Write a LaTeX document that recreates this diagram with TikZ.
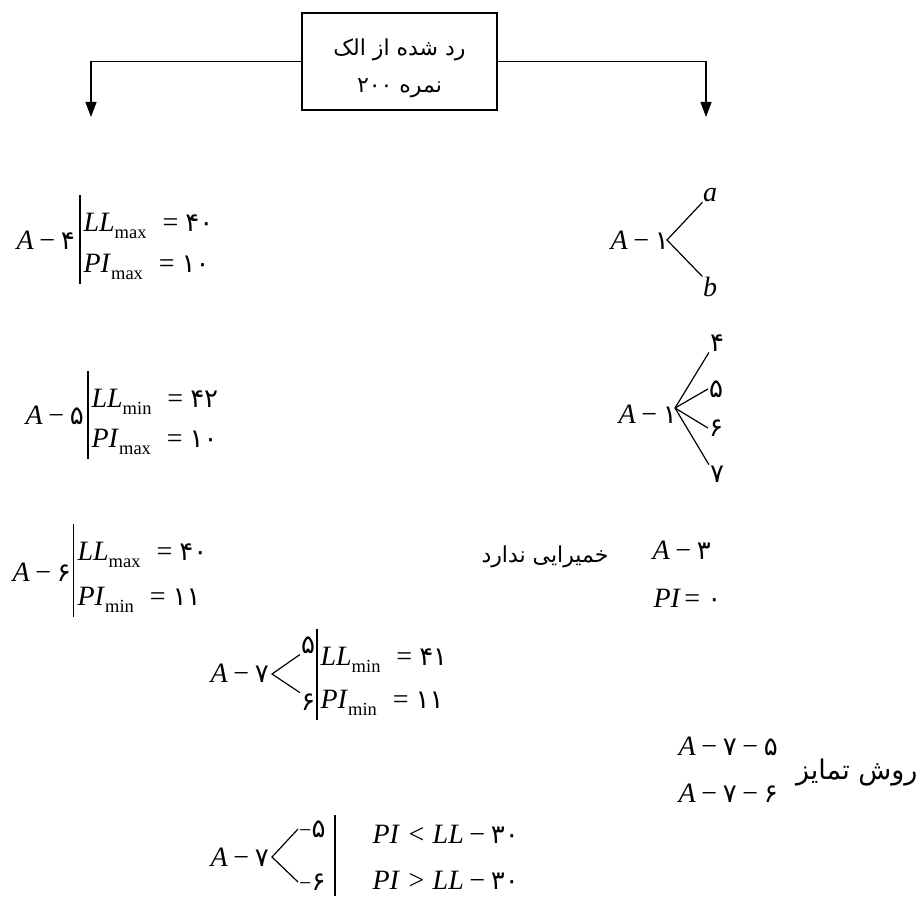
\documentclass[tikz,border=0pt]{standalone}
\usepackage{fontspec}
\setmainfont{Liberation Serif}
\newfontfamily\farsi[Script=Arabic]{DejaVu Sans}
\TeXXeTstate=1
\usetikzlibrary{arrows.meta, positioning}
\tikzset{
  every picture/.style={x=1pt, y=-1pt, line width=1.2pt},
  frame/.style={draw, line width=1.4pt, minimum width=195pt, minimum height=97pt},
  boxtext/.style={anchor=base, inner sep=0pt, font=\farsi\fontsize{22}{24}\selectfont},
  arrow/.style={-{Triangle[length=15pt, width=11pt]}},
  eq/.style={anchor=base west, inner sep=0pt, font=\fontsize{28}{32}\selectfont},
  leaf/.style={inner sep=0pt, font=\fontsize{28}{32}\selectfont\itshape},
  tag/.style={inner sep=0.5pt, font=\farsi\fontsize{26}{26}\selectfont},
  note/.style={inner sep=0pt, anchor=base east, font=\farsi\fontsize{22}{26}\selectfont},
}
\newcommand{\mv}[1]{\textit{#1}}
\newcommand{\fd}[1]{{\farsi\fontsize{26}{26}\selectfont #1}}
\newcommand{\mminus}{\hspace{0.2em}−\hspace{0.2em}}
\newcommand{\meq}{\hspace{0.12em}=\hspace{0.25em}}
\newcommand{\mrel}[1]{\hspace{0.3em}#1\hspace{0.3em}}
\newcommand{\lowsub}[1]{\raisebox{-7pt}{\fontsize{18.5}{18.5}\selectfont #1}\hspace{0.45em}}
\newcommand{\condpair}[7]{% name, bar x, text x, top baseline, bottom baseline, top row, bottom row
  \node[eq] (#1t) at (#3,#4) {#6};
  \node[eq] (#1b) at (#3,#5) {#7};
  \draw (#2,#4-36) -- (#2,#5+12);}

\begin{document}
\begin{tikzpicture}
  \useasboundingbox (0,0) rectangle (917,896);
  % sieve box and the two branches
  \node[frame] (sieve) at (399.5,61.5) {};
  \node[boxtext] (s1) at (399.5,56) {\beginR رد شده از الک\endR};
  \node[boxtext] (s2) at (399.5,93) {\beginR نمره \beginL۲۰۰\endL{}\endR};
  \coordinate (left) at (91,117);
  \coordinate (right) at (706,117);
  \draw[arrow] (sieve.west) -| (left);
  \draw[arrow] (sieve.east) -| (right);

  % left: A-4, A-5, A-6
  \node[eq] (a4) at (16,249) {\mv{A}\mminus\fd{۴}};
  \condpair{c4}{80}{83}{231}{272}{\mv{LL}\lowsub{max}\meq\fd{۴۰}}{\mv{PI}\lowsub{max}\meq\fd{۱۰}}
  \node[eq] (a5) at (25,424) {\mv{A}\mminus\fd{۵}};
  \condpair{c5}{88}{91}{407}{447}{\mv{LL}\lowsub{min}\meq\fd{۴۲}}{\mv{PI}\lowsub{max}\meq\fd{۱۰}}
  \node[eq] (a6) at (12,581) {\mv{A}\mminus\fd{۶}};
  \condpair{c6}{73.5}{77}{560}{605}{\mv{LL}\lowsub{max}\meq\fd{۴۰}}{\mv{PI}\lowsub{min}\meq\fd{۱۱}}

  % A-7 with its two sub groups
  \node[eq] (a7) at (210,682) {\mv{A}\mminus\fd{۷}};
  \coordinate (v7) at (272,674);
  \node[tag] (t5) at (308,645) {۵};
  \node[tag] (t6) at (308,702) {۶};
  \draw (t5.south west) -- (v7) -- (t6.north west);
  \condpair{c7}{317}{320}{665}{708}{\mv{LL}\lowsub{min}\meq\fd{۴۱}}{\mv{PI}\lowsub{min}\meq\fd{۱۱}}

  % right: A-1 split into a/b and 4..7
  \node[eq] (a1) at (610,249) {\mv{A}\mminus\fd{۱}};
  \coordinate (v1) at (667,240);
  \node[leaf] (la) at (710,195) {a};
  \node[leaf] (lb) at (710,287) {b};
  \draw (la.south west) -- (v1) -- (lb.north west);
  \node[eq] (a1b) at (618,423) {\mv{A}\mminus\fd{۱}};
  \coordinate (v2) at (675,408);
  \node[tag] (f4) at (717,343) {۴};
  \node[tag] (f5) at (716,389) {۵};
  \node[tag] (f6) at (716,428) {۶};
  \node[tag] (f7) at (717,474) {۷};
  \draw (v2) -- (f4.south west);
  \draw (v2) -- (f5.west);
  \draw (v2) -- (f6.west);
  \draw (v2) -- (f7.north west);

  % A-3, no plasticity
  \node[note] (nop) at (609,562) {\beginR خمیرایی ندارد\endR};
  \node[eq] (a3) at (652,559) {\mv{A}\mminus\fd{۳}};
  \node[eq] (pi3) at (653,607) {\mv{PI}\meq\fd{۰}};

  % telling A-7-5 from A-7-6
  \node[eq] (a75) at (678,755) {\mv{A}\mminus\fd{۷}\mminus\fd{۵}};
  \node[eq] (a76) at (678,802) {\mv{A}\mminus\fd{۷}\mminus\fd{۶}};
  \node[note, font=\farsi\fontsize{27}{30}\selectfont] (rule) at (918,779) {\beginR روش تمایز\endR};

  \node[eq] (a7b) at (210,866) {\mv{A}\mminus\fd{۷}};
  \coordinate (v7b) at (272,857);
  \node[tag, anchor=west] (m5) at (298,829) {{\rmfamily\fontsize{22}{22}\selectfont −}۵};
  \node[tag, anchor=west] (m6) at (298,882) {{\rmfamily\fontsize{22}{22}\selectfont −}۶};
  \draw (m5.west) -- (v7b) -- (m6.west);
  \draw (335,815) -- (335,896);
  \node[eq] (r1) at (372,843) {\mv{PI}\mrel{<}\mv{LL}\mminus\fd{۳۰}};
  \node[eq] (r2) at (372,889) {\mv{PI}\mrel{>}\mv{LL}\mminus\fd{۳۰}};
\end{tikzpicture}
\end{document}
